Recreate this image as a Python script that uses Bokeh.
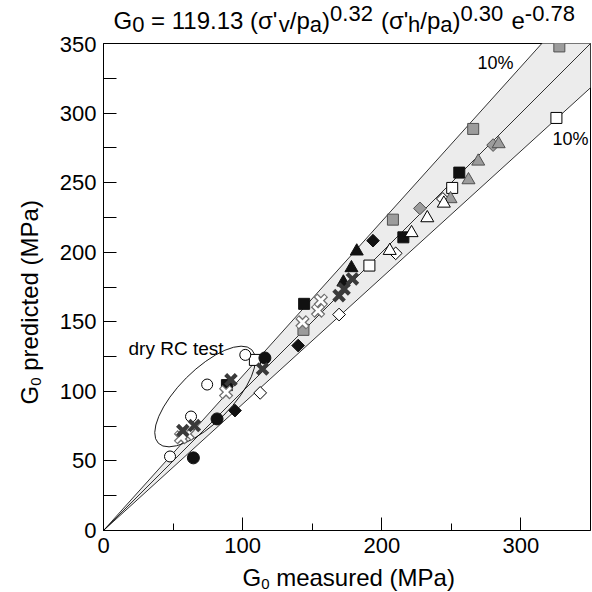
import math
from bokeh.plotting import figure
from bokeh.models import Range1d, FixedTicker, Label
from bokeh.layouts import row, column
from bokeh.core.properties import value
from bokeh.embed import file_html
from bokeh.resources import INLINE

# ---------------- data (MPa) ----------------
open_circle_x = [47.8, 62.9, 74.5, 101.9]
open_circle_y = [53.2, 81.9, 104.9, 126.2]

black_circle_x = [64.6, 81.6, 116.0]
black_circle_y = [52.2, 80.2, 124.0]

black_diamond_x = [94.5, 139.9, 193.7]
black_diamond_y = [86.2, 132.9, 208.3]

open_diamond_x = [112.6, 169.3, 210.0, 243.9]
open_diamond_y = [98.9, 155.2, 199.2, 238.3]

open_square_x = [108.8, 191.1, 250.6, 325.5]
open_square_y = [122.6, 190.4, 246.2, 296.5]

black_square_x = [88.7, 144.2, 215.5, 255.7]
black_square_y = [104.5, 162.9, 210.7, 257.2]

gray_square_x = [143.7, 208.0, 265.7, 327.6]
gray_square_y = [144.2, 223.4, 288.6, 347.9]

gray_diamond_x = [227.4, 280.0]
gray_diamond_y = [231.5, 277.0]

gray_triangle_x = [249.4, 262.3, 269.3, 284.0]
gray_triangle_y = [238.3, 251.9, 265.3, 277.8]

open_triangle_x = [205.7, 221.4, 232.7, 244.6]
open_triangle_y = [201.1, 213.9, 224.6, 235.1]

black_triangle_x = [172.4, 178.2, 182.0]
black_triangle_y = [178.4, 188.7, 200.7]

dark_cross_x = [57.0, 65.3, 91.6, 114.3, 169.3, 172.9, 178.9]
dark_cross_y = [71.8, 75.4, 108.3, 116.1, 168.8, 173.6, 180.8]

light_cross_x = [55.7, 60.5, 88.1, 143.0, 154.2, 156.2]
light_cross_y = [67.0, 69.5, 99.4, 149.6, 158.0, 165.2]

line_x = [0, 350]
band_ratio_upper = 1 / 0.9
band_ratio_lower = 1 / 1.1

x_major_ticks = [0, 100, 200, 300]
x_minor_ticks = [50, 150, 250]
y_major_ticks = [0, 50, 100, 150, 200, 250, 300, 350]
y_minor_ticks = [25, 75, 125, 175, 225, 275, 325]

# ---------------- layout (global pixel geometry) ----------------
W, H = 592, 592
YLAB_W = 50             # left strip holding the y-axis title
TITLE_H = 36            # strip above the plot holding the formula
FRAME_L, FRAME_R, FRAME_T, FRAME_B = 103, 590, 43, 530
PLOT_BOTTOM = 565       # bottom of the main figure (tick labels inside)
XMAX, YMAX = 350, 350
FONT = "Liberation Sans"
BASE_SHIFT = 0.34       # em correction of the rendered alphabetic baseline

main_w = W - YLAB_W
main_h = PLOT_BOTTOM - TITLE_H
BL = FRAME_L - YLAB_W
BR = W - FRAME_R

p = figure(width=main_w, height=main_h, x_range=Range1d(0, XMAX), y_range=Range1d(0, YMAX),
           output_backend="svg", toolbar_location=None, title=None,
           min_border_left=BL, min_border_right=BR,
           min_border_top=FRAME_T - TITLE_H, min_border_bottom=PLOT_BOTTOM - FRAME_B)
p.grid.visible = False
p.outline_line_color = "black"
p.outline_line_width = 1
p.background_fill_color = "white"
p.border_fill_color = "white"

for ax in (p.xaxis[0], p.yaxis[0]):
    ax.major_tick_out = 0
    ax.minor_tick_out = 0
    ax.axis_line_color = "black"
    ax.major_tick_line_color = "black"
    ax.minor_tick_line_color = "black"
    ax.major_label_text_font = FONT
    ax.major_label_text_font_size = "22px"
    ax.major_label_text_color = "black"

p.xaxis[0].ticker = FixedTicker(ticks=x_major_ticks, minor_ticks=x_minor_ticks)
p.xaxis[0].major_tick_in = 13
p.xaxis[0].minor_tick_in = 7
p.xaxis[0].major_label_standoff = 7
p.yaxis[0].ticker = FixedTicker(ticks=y_major_ticks, minor_ticks=y_minor_ticks)
p.yaxis[0].major_tick_in = 13
p.yaxis[0].minor_tick_in = 13
p.yaxis[0].major_label_standoff = 7

# band and lines
lower = [v * band_ratio_lower for v in line_x]
upper = [v * band_ratio_upper for v in line_x]
p.varea(x=line_x, y1=lower, y2=upper, fill_color="#ececec")
p.line(line_x, lower, line_color="black", line_width=0.8)
p.line(line_x, upper, line_color="black", line_width=0.8)
p.line(line_x, line_x, line_color="black", line_width=0.8)

# ellipse around dry RC tests
p.ellipse(x=[73], y=[96.3], width=95, height=38, angle=math.radians(45),
          fill_color=None, line_color="black", line_width=0.9)

GRAY = "#9c9c9c"
GRAY_LINE = "#505050"
SQ = 11
DI = 9
TR = 13
CI = 11

p.scatter(open_square_x, open_square_y, marker="square", size=SQ, fill_color="white", line_color="black")
p.scatter(black_square_x, black_square_y, marker="square", size=SQ, fill_color="#111111", line_color="#111111")
p.scatter(gray_square_x, gray_square_y, marker="square", size=SQ, fill_color=GRAY, line_color=GRAY_LINE)
p.scatter(open_circle_x, open_circle_y, marker="circle", size=CI, fill_color="white", line_color="black")
p.scatter(black_circle_x, black_circle_y, marker="circle", size=CI + 1, fill_color="#111111", line_color="#111111")
p.scatter(black_diamond_x, black_diamond_y, marker="square", angle=math.pi / 4, size=DI, fill_color="#111111", line_color="#111111")
p.scatter(open_diamond_x, open_diamond_y, marker="square", angle=math.pi / 4, size=DI, fill_color="white", line_color="black")
p.scatter(gray_diamond_x, gray_diamond_y, marker="square", angle=math.pi / 4, size=DI, fill_color=GRAY, line_color=GRAY_LINE)
p.scatter(gray_triangle_x, gray_triangle_y, marker="triangle", size=TR, fill_color=GRAY, line_color=GRAY_LINE)
p.scatter(open_triangle_x, open_triangle_y, marker="triangle", size=TR, fill_color="white", line_color="black")
p.scatter(black_triangle_x, black_triangle_y, marker="triangle", size=TR, fill_color="#111111", line_color="#111111")
p.scatter(light_cross_x, light_cross_y, marker="x", size=15, line_color="#707070", line_width=5.5)
p.scatter(light_cross_x, light_cross_y, marker="x", size=13, line_color="white", line_width=2.8)
p.scatter(dark_cross_x, dark_cross_y, marker="x", size=15, line_color="#3a3a3a", line_width=4.2)

# in-plot annotations
FW, FH = FRAME_R - FRAME_L, FRAME_B - FRAME_T

def px2x(px):
    return (px - FRAME_L) / FW * XMAX

def px2y(py):
    return (FRAME_B - py) / FH * YMAX

def add_label(text, px, py, size):
    py -= BASE_SHIFT * size
    p.add_layout(Label(x=px2x(px), y=px2y(py), text=text, text_font=FONT,
                       text_font_size=f"{size}px", text_color="black",
                       text_align="left", text_baseline="alphabetic"))

add_label("dry RC test", 128, 354, 19)
add_label("10%", 477, 69, 18)
add_label("10%", 552, 145, 18)

# ---------------- text strips (figures whose ranges are global pixels) ----------------
WID = {" ": .278, "'": .191, "(": .333, ")": .333, "-": .333, ".": .278, "/": .278,
       "=": .584, "%": .889, "G": .778, "M": .833, "P": .667, "R": .722, "C": .722,
       "a": .556, "c": .5, "d": .556, "e": .556, "h": .556, "i": .222, "m": .833,
       "p": .556, "r": .333, "s": .5, "t": .278, "u": .556, "v": .5, "y": .5, "σ": .6}

def tw(s, size):
    return sum(WID.get(c, .556) for c in s) * size

def strip(x0, x1, y0, y1, bl=0, br=0, bt=0, bb=0):
    # figure covering global pixels [x0,x1]x[y0,y1]; ranges are global pixel coordinates
    f = figure(width=x1 - x0, height=y1 - y0, x_range=Range1d(x0 + bl, x1 - br),
               y_range=Range1d(y1 - bb, y0 + bt),
               x_axis_type=None, y_axis_type=None, output_backend="svg", toolbar_location=None,
               title=None, min_border=0, min_border_left=bl, min_border_right=br,
               min_border_top=bt, min_border_bottom=bb)
    f.grid.visible = False
    f.outline_line_color = None
    f.background_fill_color = "white"
    f.border_fill_color = "white"
    return f

def put(f, text, px, py, size, vertical=False):
    stripped = text.lstrip(" ")
    adv = tw(text[:len(text) - len(stripped)], size)
    if vertical:
        py -= adv
        px -= BASE_SHIFT * size
        angle = math.pi / 2
    else:
        px += adv
        py -= BASE_SHIFT * size
        angle = 0.0
    f.text(x=[px], y=[py], text=[stripped], text_font=value(FONT), text_font_size=value(f"{size}px"),
           text_color="black", text_align="left", text_baseline="alphabetic", angle=angle)

# title strip: formula with sub/superscripts (frame aligned with the main frame)
tfig = strip(YLAB_W, W, 0, TITLE_H, bl=BL, br=BR)
title_pieces = [("G", "n"), ("0", "sub"), (" = 119.13 (σ'", "n"), ("v", "sub"), ("/p", "n"),
                ("a", "sub"), (")", "n"), ("0.32", "sup"), (" (σ'", "n"), ("h", "sub"),
                ("/p", "n"), ("a", "sub"), (")", "n"), ("0.30", "sup"), (" e", "n"),
                ("-0.78", "sup")]
sizes = {"n": 24, "sub": 22, "sup": 22}
base = {"n": 28, "sub": 31, "sup": 20.5}
cx = 113
for txt, kind in title_pieces:
    size = sizes[kind]
    put(tfig, txt, cx, base[kind], size)
    cx += tw(txt, size) + (1.5 if kind == "sup" else 0)

# x-axis title strip
xfig = strip(YLAB_W, W, PLOT_BOTTOM, H, bl=BL, br=BR)
xl = 242
put(xfig, "G", xl, 585, 24)
xl += tw("G", 24)
put(xfig, "0", xl, 589, 15)
xl += tw("0", 15)
put(xfig, " measured (MPa)", xl, 585, 24)

# y-axis title strip (rotated)
yfig = strip(0, YLAB_W, 0, H, bt=FRAME_T, bb=H - FRAME_B)
yl = 404
put(yfig, "G", 37, yl, 24, vertical=True)
yl -= tw("G", 24)
put(yfig, "0", 41, yl, 15, vertical=True)
yl -= tw("0", 15)
put(yfig, " predicted (MPa)", 37, yl, 24, vertical=True)

layout = row(yfig, column(tfig, p, xfig, spacing=0), spacing=0)
open("out.html", "w").write(file_html(layout, INLINE))
